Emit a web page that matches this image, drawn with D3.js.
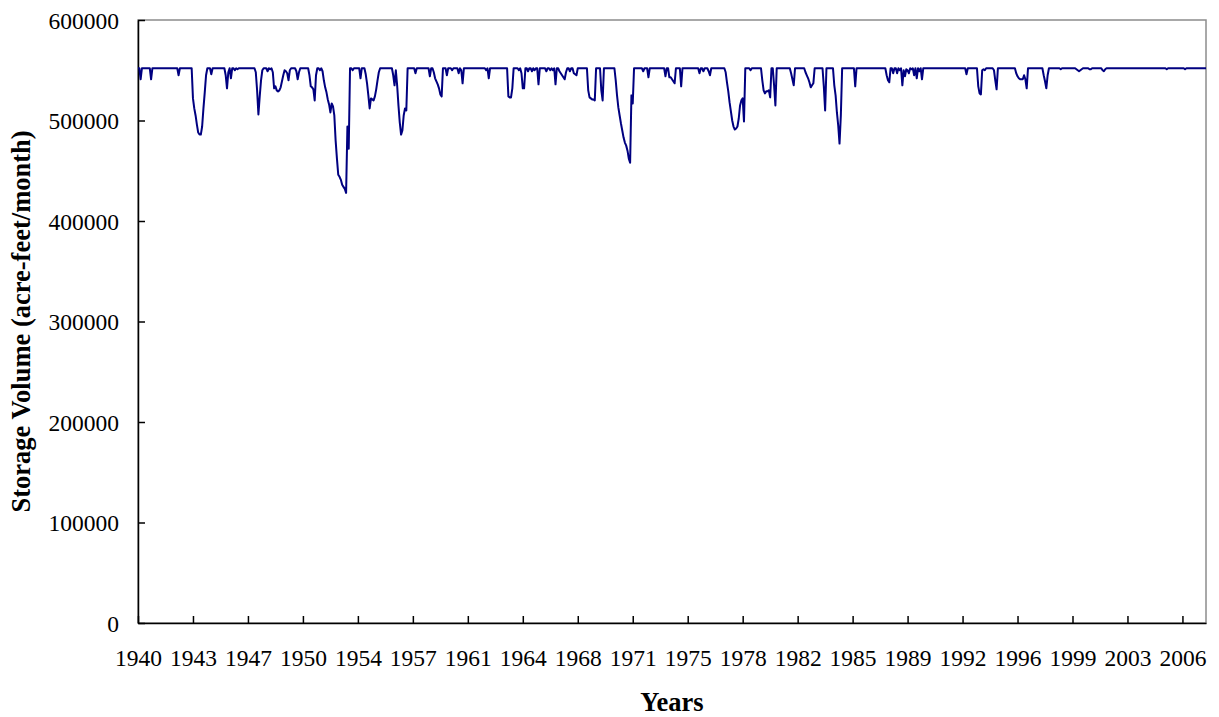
<!DOCTYPE html>
<html>
<head>
<meta charset="utf-8">
<script src="https://cdn.jsdelivr.net/npm/d3@7"></script>
<style>
  body { margin: 0; background: #fff; }
  .axis text { font-family: "Liberation Serif", "Times New Roman", serif; font-size: 23.5px; fill: #000; }
  .axis path, .axis line { stroke: #000; stroke-width: 1.5px; }
  .title { font-family: "Liberation Serif", "Times New Roman", serif; font-size: 26.5px; font-weight: bold; fill: #000; }
  .line { fill: none; stroke: #000080; stroke-width: 2px; stroke-linejoin: round; }
</style>
</head>
<body>
<div id="chart"></div>
<script>
// monthly storage, Jan 1940 .. Jan 2008 (acre-feet), one row per year
var storage = [
552000,552000,541000,552000,552000,552000,552000,552000,552000,552000,541000,552000,
552000,552000,552000,552000,552000,552000,552000,552000,552000,552000,552000,552000,
552000,552000,552000,552000,552000,552000,552000,545000,552000,552000,552000,552000,
552000,552000,552000,552000,552000,552000,522000,512000,505000,496000,488000,486000,
486000,494000,512000,528000,545000,552000,552000,552000,546000,552000,552000,552000,
552000,552000,552000,552000,552000,552000,552000,545000,532000,548000,552000,542000,
552000,552000,550000,552000,551000,552000,552000,552000,552000,552000,552000,552000,
552000,552000,552000,552000,552000,552000,548000,530000,506000,524000,540000,550000,
552000,552000,552000,549000,552000,551000,552000,548000,532000,534000,530000,529000,
530000,533000,539000,545000,550000,549000,547000,540000,550000,552000,552000,552000,
552000,549000,541000,548000,552000,552000,552000,552000,552000,552000,552000,545000,
534000,533000,531000,520000,545000,552000,552000,550000,552000,549000,540000,533000,
528000,521000,516000,508000,517000,514000,505000,480000,462000,446000,444000,441000,
436000,434000,432000,428000,494000,472000,552000,552000,550000,552000,552000,552000,
552000,552000,542000,552000,552000,552000,546000,537000,525000,512000,522000,521000,
520000,524000,531000,540000,548000,552000,552000,552000,552000,552000,552000,552000,
552000,552000,552000,545000,535000,550000,535000,515000,498000,486000,490000,505000,
512000,510000,552000,552000,552000,552000,552000,552000,547000,552000,552000,552000,
552000,552000,552000,552000,552000,552000,552000,544000,552000,552000,548000,542000,
539000,536000,532000,526000,524000,552000,552000,552000,545000,552000,552000,552000,
550000,552000,552000,552000,552000,547000,552000,550000,537000,552000,552000,552000,
552000,552000,552000,552000,552000,552000,552000,552000,552000,552000,552000,552000,
552000,552000,550000,552000,542000,552000,552000,552000,552000,552000,552000,552000,
552000,552000,552000,552000,552000,552000,552000,524000,523000,523000,532000,552000,
552000,552000,552000,550000,552000,547000,532000,532000,552000,552000,549000,552000,
552000,549000,552000,550000,552000,552000,536000,552000,552000,552000,552000,552000,
549000,552000,552000,550000,552000,550000,552000,536000,552000,552000,549000,547000,
545000,543000,541000,548000,552000,552000,549000,552000,552000,547000,546000,545000,
552000,552000,552000,552000,552000,552000,552000,552000,530000,523000,522000,521000,
521000,520000,552000,552000,552000,552000,530000,520000,552000,552000,552000,552000,
552000,552000,552000,552000,552000,540000,525000,513000,505000,497000,490000,483000,
478000,475000,470000,462000,458000,525000,517000,552000,552000,552000,552000,552000,
552000,552000,549000,552000,552000,552000,543000,552000,552000,552000,552000,552000,
552000,552000,552000,552000,552000,552000,552000,544000,552000,552000,543000,543000,
541000,539000,537000,552000,552000,552000,552000,534000,552000,552000,552000,552000,
552000,552000,552000,552000,552000,552000,552000,552000,552000,547000,552000,552000,
549000,552000,552000,552000,549000,545000,552000,552000,552000,552000,552000,552000,
552000,552000,552000,552000,552000,548000,538000,529000,518000,509000,500000,494000,
491000,492000,494000,502000,515000,520000,522000,499000,552000,552000,552000,552000,
550000,552000,552000,552000,552000,552000,552000,552000,552000,540000,530000,527000,
529000,529000,530000,523000,552000,552000,535000,515000,552000,552000,552000,552000,
552000,552000,552000,552000,552000,552000,552000,547000,541000,535000,552000,552000,
552000,552000,552000,552000,552000,552000,548000,545000,542000,538000,533000,535000,
537000,552000,552000,552000,552000,552000,552000,552000,534000,510000,552000,552000,
552000,552000,552000,552000,535000,525000,508000,495000,477000,505000,552000,552000,
552000,552000,552000,552000,552000,552000,552000,552000,534000,552000,552000,552000,
552000,552000,552000,552000,552000,552000,552000,552000,552000,552000,552000,552000,
552000,552000,552000,552000,552000,552000,552000,552000,545000,540000,538000,552000,
552000,547000,552000,552000,547000,552000,550000,552000,535000,550000,544000,551000,
550000,547000,552000,551000,552000,545000,552000,542000,552000,549000,552000,541000,
552000,552000,552000,552000,552000,552000,552000,552000,552000,552000,552000,552000,
552000,552000,552000,552000,552000,552000,552000,552000,552000,552000,552000,552000,
552000,552000,552000,552000,552000,552000,552000,552000,552000,546000,552000,552000,
552000,552000,552000,552000,552000,552000,534000,527000,526000,550000,551000,550000,
552000,552000,552000,552000,552000,552000,550000,540000,531000,552000,552000,552000,
552000,552000,552000,552000,552000,552000,552000,552000,552000,552000,552000,547000,
544000,542000,541000,541000,541000,545000,541000,532000,552000,552000,552000,552000,
552000,552000,552000,552000,552000,552000,552000,552000,545000,539000,532000,545000,
552000,552000,552000,552000,552000,552000,552000,552000,552000,551000,552000,552000,
552000,552000,552000,552000,552000,552000,552000,552000,552000,551000,550000,549000,
550000,551000,552000,552000,552000,552000,552000,551000,551000,552000,552000,552000,
552000,552000,552000,552000,552000,550000,549000,551000,552000,552000,552000,552000,
552000,552000,552000,552000,552000,552000,552000,552000,552000,552000,552000,552000,
552000,552000,552000,552000,552000,552000,552000,552000,552000,552000,552000,552000,
552000,552000,552000,552000,552000,552000,552000,552000,552000,552000,552000,552000,
552000,552000,552000,552000,552000,552000,551000,552000,552000,552000,552000,552000,
552000,552000,552000,552000,552000,552000,552000,552000,551000,552000,552000,552000,
552000,552000,552000,552000,552000,552000,552000,552000,552000,552000,552000,552000,
552000
];

// category labels shown every 42 months
var labelEvery = 42;
var xLabels = ["1940","1943","1947","1950","1954","1957","1961","1964","1968","1971",
               "1975","1978","1982","1985","1989","1992","1996","1999","2003","2006"];
var yTicks = [0, 100000, 200000, 300000, 400000, 500000, 600000];

var margin = {
    top: 20,
    right: 13,
    bottom: 94,
    left: 138
  },
  width = 1219 - margin.left - margin.right,
  height = 717 - margin.top - margin.bottom;

var x = d3.scaleLinear()
  .domain([0, storage.length - 1])
  .range([0, width]);

var y = d3.scaleLinear()
  .domain([0, 600000])
  .range([height, 0]);

var root = d3.select("#chart").append("svg")
  .attr("width", 1219)
  .attr("height", 717);

var svg = root.append("g")
  .attr("transform", "translate(" + margin.left + "," + margin.top + ")");

// plot area border (grey top / right)
svg.append("rect")
  .attr("width", width)
  .attr("height", height)
  .attr("fill", "none")
  .attr("stroke", "#8c8c8c")
  .attr("stroke-width", 1.5);

var xAxis = d3.axisBottom(x)
  .tickValues(xLabels.map(function(d, i) { return i * labelEvery; }))
  .tickFormat(function(d, i) { return xLabels[i]; })
  .tickSizeInner(-7)
  .tickSizeOuter(0);

var yAxis = d3.axisLeft(y)
  .tickValues(yTicks)
  .tickFormat(d3.format("d"))
  .tickSizeInner(-7)
  .tickSizeOuter(0);

svg.append("g")
  .attr("class", "x axis")
  .attr("transform", "translate(0," + height + ")")
  .call(xAxis)
  .selectAll("text")
  .attr("y", 43)
  .attr("dy", 0);

svg.append("g")
  .attr("class", "y axis")
  .call(yAxis)
  .selectAll("text")
  .attr("x", -19)
  .attr("dy", "0.35em");

var valueline = d3.line()
  .x(function(d, i) { return x(i); })
  .y(function(d) { return y(d); });

svg.append("path")
  .datum(storage)
  .attr("class", "line")
  .attr("d", valueline);

root.append("text")
  .attr("class", "title")
  .attr("text-anchor", "middle")
  .attr("transform", "translate(30," + (margin.top + height / 2) + ") rotate(-90)")
  .text("Storage Volume (acre-feet/month)");

root.append("text")
  .attr("class", "title")
  .attr("text-anchor", "middle")
  .attr("x", margin.left + width / 2)
  .attr("y", 711)
  .text("Years");
</script>
</body>
</html>
